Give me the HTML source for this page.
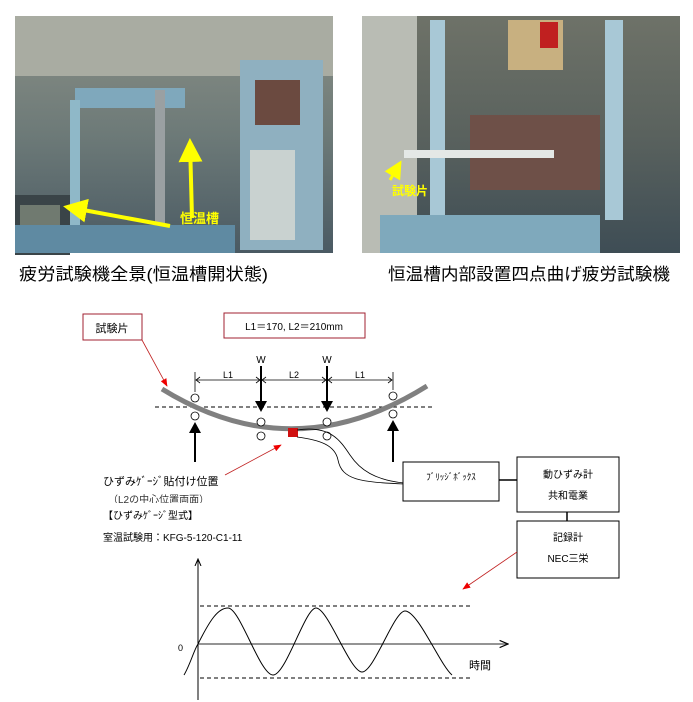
<!DOCTYPE html>
<html><head><meta charset="utf-8"><style>
body{margin:0;background:#fff;width:693px;height:702px;overflow:hidden;font-family:"Liberation Sans","Noto Sans CJK JP",sans-serif}
svg{display:block}
</style></head><body>
<svg width="693" height="702" viewBox="0 0 693 702" xmlns="http://www.w3.org/2000/svg" font-family="'Liberation Sans','Noto Sans CJK JP',sans-serif">
<defs>
<linearGradient id="g1" x1="0" y1="0" x2="0" y2="1"><stop offset="0" stop-color="#8a8f86"/><stop offset="0.5" stop-color="#6d7a78"/><stop offset="1" stop-color="#4a5a63"/></linearGradient>
<linearGradient id="g2" x1="0" y1="0" x2="0" y2="1"><stop offset="0" stop-color="#6e7268"/><stop offset="0.5" stop-color="#5a625e"/><stop offset="1" stop-color="#3e4d55"/></linearGradient>
<marker id="ah" markerWidth="8" markerHeight="8" refX="7" refY="4" orient="auto"><path d="M0,0 L8,4 L0,8z" fill="#000"/></marker>
<marker id="rh" markerWidth="10" markerHeight="8" refX="9" refY="4" orient="auto"><path d="M0,0 L10,4 L0,8z" fill="#e00"/></marker>
<marker id="oh" markerWidth="8" markerHeight="8" refX="7" refY="4" orient="auto"><path d="M0,1 L7,4 L0,7" fill="none" stroke="#000" stroke-width="1"/></marker>
<marker id="yh" markerWidth="6" markerHeight="6" refX="5" refY="3" orient="auto"><path d="M0,0 L6,3 L0,6z" fill="#ff0"/></marker>
</defs>
<!-- left photo -->
<rect x="15" y="16" width="318" height="237" fill="url(#g1)"/>
<rect x="15" y="16" width="318" height="60" fill="#a9aca2"/>
<rect x="240" y="60" width="83" height="190" fill="#8fb0c0"/>
<rect x="255" y="80" width="45" height="45" fill="#6b4a40"/>
<rect x="250" y="150" width="45" height="90" fill="#c9d2d0"/>
<rect x="75" y="88" width="110" height="20" fill="#7fa8bc"/>
<rect x="70" y="100" width="10" height="140" fill="#8fb8c8"/>
<rect x="155" y="90" width="10" height="160" fill="#9aa0a2"/>
<rect x="15" y="195" width="55" height="60" fill="#3a4448"/>
<rect x="20" y="205" width="40" height="40" fill="#707a70"/>
<rect x="15" y="225" width="220" height="28" fill="#5f8aa2"/>
<line x1="170" y1="226" x2="67" y2="207" stroke="#ff0" stroke-width="4" marker-end="url(#yh)"/>
<line x1="192" y1="218" x2="190" y2="142" stroke="#ff0" stroke-width="4" marker-end="url(#yh)"/>
<text x="180" y="223" font-size="13" fill="#ff0" font-weight="bold">恒温槽</text>
<!-- right photo -->
<rect x="362" y="16" width="318" height="237" fill="url(#g2)"/>
<rect x="362" y="16" width="55" height="237" fill="#b9bcb4"/>
<rect x="430" y="20" width="15" height="220" fill="#a8c8d6"/>
<rect x="605" y="20" width="18" height="200" fill="#a8c8d6"/>
<rect x="508" y="20" width="55" height="50" fill="#c8b080"/>
<rect x="540" y="22" width="18" height="26" fill="#c02020"/>
<rect x="470" y="115" width="130" height="75" fill="#6e5048"/>
<rect x="404" y="150" width="150" height="8" fill="#e4e8e6"/>
<rect x="380" y="215" width="220" height="38" fill="#7fa9bc"/>
<line x1="390" y1="180" x2="400" y2="163" stroke="#ff0" stroke-width="3" marker-end="url(#yh)"/>
<text x="392" y="195" font-size="12" fill="#ff0" font-weight="bold">試験片</text>
<!-- captions -->
<text x="19" y="280" font-size="17" fill="#000" textLength="249" lengthAdjust="spacingAndGlyphs">疲労試験機全景(恒温槽開状態)</text>
<text x="388" y="280" font-size="17" fill="#000" textLength="282" lengthAdjust="spacingAndGlyphs">恒温槽内部設置四点曲げ疲労試験機</text>
<!-- top boxes -->
<rect x="83" y="314" width="59" height="26" fill="#fff" stroke="#a02030" stroke-width="1"/>
<text x="112" y="332" font-size="11" text-anchor="middle">試験片</text>
<rect x="224" y="313" width="141" height="25" fill="#fff" stroke="#a02030" stroke-width="1"/>
<text x="294" y="330" font-size="10" text-anchor="middle">L1＝170, L2＝210mm</text>
<line x1="142" y1="340" x2="167" y2="386" stroke="#c02020" stroke-width="0.8" marker-end="url(#rh)"/>
<!-- dimension -->
<line x1="195" y1="372" x2="195" y2="392" stroke="#000" stroke-width="0.8"/>
<line x1="393" y1="372" x2="393" y2="390" stroke="#000" stroke-width="0.8"/>
<line x1="196" y1="380" x2="392" y2="380" stroke="#000" stroke-width="0.8"/>
<path d="M200,377 L196,380 L200,383 M256,377 L260,380 L256,383 M266,377 L262,380 L266,383 M322,377 L326,380 L322,383 M332,377 L328,380 L332,383 M388,377 L392,380 L388,383" stroke="#000" fill="none" stroke-width="0.8"/>
<text x="228" y="378" font-size="9" text-anchor="middle">L1</text>
<text x="294" y="378" font-size="9" text-anchor="middle">L2</text>
<text x="360" y="378" font-size="9" text-anchor="middle">L1</text>
<text x="261" y="363" font-size="10" text-anchor="middle">W</text>
<text x="327" y="363" font-size="10" text-anchor="middle">W</text>
<line x1="261" y1="366" x2="261" y2="402" stroke="#000" stroke-width="2"/>
<line x1="327" y1="366" x2="327" y2="402" stroke="#000" stroke-width="2"/>
<path d="M255,401 L267,401 L261,412z M321,401 L333,401 L327,412z" fill="#000"/>
<line x1="155" y1="407" x2="433" y2="407" stroke="#000" stroke-width="1" stroke-dasharray="4,3"/>
<path d="M162,389 Q293,470 427,386" stroke="#808080" stroke-width="5" fill="none"/>
<g fill="#fff" stroke="#000" stroke-width="0.8">
<circle cx="195" cy="398" r="4"/><circle cx="195" cy="416" r="4"/>
<circle cx="261" cy="422" r="4"/><circle cx="261" cy="436" r="4"/>
<circle cx="327" cy="422" r="4"/><circle cx="327" cy="436" r="4"/>
<circle cx="393" cy="396" r="4"/><circle cx="393" cy="414" r="4"/>
</g>
<line x1="195" y1="433" x2="195" y2="462" stroke="#000" stroke-width="2"/>
<line x1="393" y1="431" x2="393" y2="462" stroke="#000" stroke-width="2"/>
<path d="M189,433 L201,433 L195,422z M387,431 L399,431 L393,420z" fill="#000"/>
<rect x="288" y="428" width="10" height="9" fill="#d01010"/>
<!-- wires -->
<path d="M297,430 C330,425 340,440 350,455 C360,470 375,480 404,483" stroke="#000" fill="none" stroke-width="0.8"/>
<path d="M297,437 C320,440 335,445 338,460 C342,480 360,482 404,484" stroke="#000" fill="none" stroke-width="0.8"/>
<!-- gauge text -->
<line x1="225" y1="475" x2="281" y2="445" stroke="#c02020" stroke-width="0.8" marker-end="url(#rh)"/>
<text x="103" y="485" font-size="11">ひずみｹﾞｰｼﾞ貼付け位置</text>
<text x="108" y="503" font-size="10" fill="#333">（L2の中心位置両面）</text>
<rect x="95" y="503" width="140" height="6" fill="#fff"/>
<text x="103" y="519" font-size="10">【ひずみｹﾞｰｼﾞ型式】</text>
<text x="103" y="541" font-size="10">室温試験用：KFG-5-120-C1-11</text>
<!-- boxes -->
<rect x="403" y="462" width="96" height="39" fill="#fff" stroke="#000"/>
<text x="451" y="480" font-size="9" text-anchor="middle">ﾌﾞﾘｯｼﾞﾎﾞｯｸｽ</text>
<line x1="499" y1="480" x2="517" y2="480" stroke="#000" stroke-width="1.5"/>
<rect x="517" y="457" width="102" height="55" fill="#fff" stroke="#000"/>
<text x="568" y="478" font-size="10" text-anchor="middle">動ひずみ計</text>
<text x="568" y="499" font-size="10" text-anchor="middle">共和電業</text>
<line x1="567" y1="512" x2="567" y2="521" stroke="#000" stroke-width="1.5"/>
<rect x="517" y="521" width="102" height="57" fill="#fff" stroke="#000"/>
<text x="568" y="541" font-size="10" text-anchor="middle">記録計</text>
<text x="568" y="562" font-size="10" text-anchor="middle">NEC三栄</text>
<line x1="517" y1="552" x2="463" y2="589" stroke="#c02020" stroke-width="0.8" marker-end="url(#rh)"/>
<!-- chart -->
<line x1="198" y1="700" x2="198" y2="559" stroke="#000" stroke-width="1" marker-end="url(#oh)"/>
<line x1="198" y1="644" x2="508" y2="644" stroke="#555" stroke-width="1.2" marker-end="url(#oh)"/>
<line x1="200" y1="606" x2="472" y2="606" stroke="#000" stroke-dasharray="4,3"/>
<line x1="200" y1="678" x2="472" y2="678" stroke="#000" stroke-dasharray="4,3"/>
<text x="178" y="651" font-size="9">0</text>
<text x="469" y="669" font-size="11">時間</text>
<path d="M184,675 C190,665 194,650 198,644 C210,620 218,608 228,608 C240,608 260,675 273,675 C286,675 305,608 316,608 C328,608 350,672 362,672 C374,672 394,611 405,611 C418,611 440,665 452,675" stroke="#000" fill="none" stroke-width="1"/>
</svg>
</body></html>
